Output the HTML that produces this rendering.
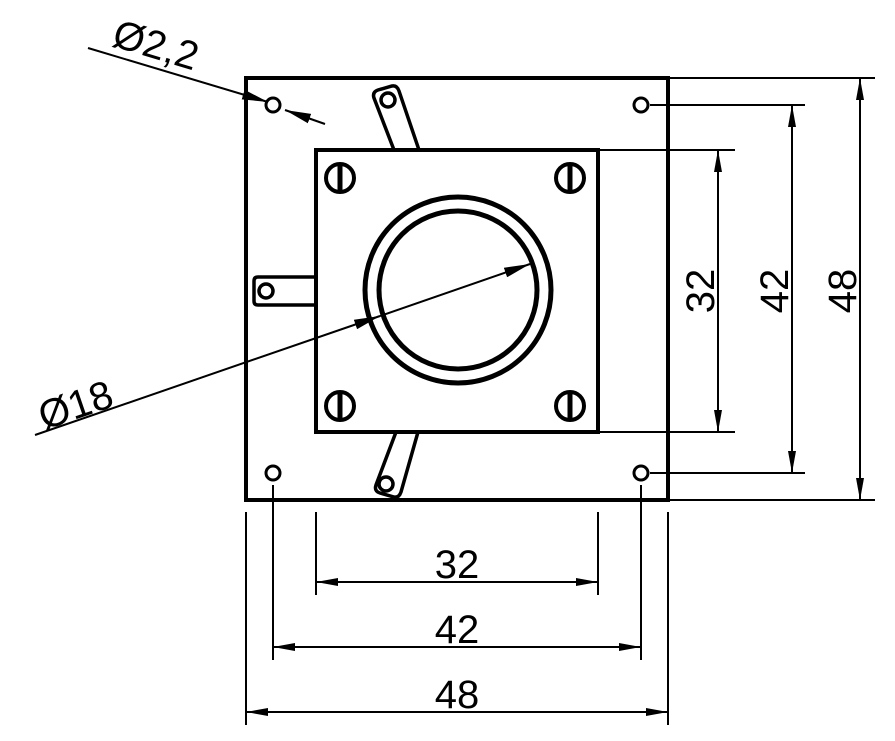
<!DOCTYPE html><html><head><style>body{margin:0;background:#fff}</style></head><body>
<svg width="895" height="736" viewBox="0 0 895 736" xmlns="http://www.w3.org/2000/svg" font-family="Liberation Sans, sans-serif">
<defs><marker id="a" markerWidth="22" markerHeight="8" refX="22" refY="4" orient="auto-start-reverse" markerUnits="userSpaceOnUse"><path d="M0,0L22,4L0,8z" fill="#000"/></marker>
<marker id="b" markerWidth="26" markerHeight="10" refX="26" refY="5" orient="auto" markerUnits="userSpaceOnUse"><path d="M0,0L26,5L0,10z" fill="#000"/></marker></defs>
<g fill="none" stroke="#000">
<rect x="246" y="78" width="422" height="422" stroke-width="4"/>
<rect x="316" y="150" width="282" height="282" stroke-width="4"/>
<g stroke-width="3"><circle cx="273" cy="105" r="7"/><circle cx="641" cy="105" r="7"/><circle cx="273" cy="473" r="7"/><circle cx="641" cy="473" r="7"/></g>
<g stroke-width="4"><circle cx="340" cy="178" r="14"/><circle cx="570" cy="178" r="14"/><circle cx="340" cy="406" r="14"/><circle cx="570" cy="406" r="14"/></g>
<g stroke-width="5"><path d="M340 164V192M570 164V192M340 392V420M570 392V420"/></g>
<circle cx="458" cy="290" r="93" stroke-width="5"/><circle cx="458" cy="290" r="79" stroke-width="5"/>
<g stroke-width="3.5">
<path d="M394 150L374 98Q372 92 378 90L392 86Q397 85 399 91L419 150"/><circle cx="388" cy="100" r="7"/>
<path d="M316 277H258Q254 277 254 281V301Q254 305 258 305H316"/><circle cx="266" cy="291" r="7"/>
<path d="M396 432L376 485Q374 491 380 493L394 497Q399 498 401 492L418 432"/><circle cx="386" cy="484" r="7"/>
</g>
<g stroke-width="2">
<path d="M600 150H735M600 432H735M650 105H805M650 473H805M670 78H875M670 500H875"/>
<path d="M316 512V595M598 512V595M273 485V660M641 485V660M246 512V725M668 512V725"/>
<path d="M718 150V432" marker-start="url(#a)" marker-end="url(#a)"/>
<path d="M792 105V473" marker-start="url(#a)" marker-end="url(#a)"/>
<path d="M860 78V500" marker-start="url(#a)" marker-end="url(#a)"/>
<path d="M316 582H598" marker-start="url(#a)" marker-end="url(#a)"/>
<path d="M273 647H641" marker-start="url(#a)" marker-end="url(#a)"/>
<path d="M246 712H668" marker-start="url(#a)" marker-end="url(#a)"/>
<path d="M88 48L268 102" marker-end="url(#b)"/>
<path d="M325 124L285 110" marker-end="url(#b)"/>
<path d="M35 435L380 316" marker-end="url(#b)"/>
<path d="M380 316L530 264" marker-end="url(#b)"/>
</g></g>
<g font-size="40" fill="#000" text-anchor="middle">
<text x="457" y="578">32</text><text x="457" y="643">42</text><text x="457" y="708">48</text>
<text transform="translate(714 291) rotate(-90)">32</text>
<text transform="translate(788 291) rotate(-90)">42</text>
<text transform="translate(856 291) rotate(-90)">48</text>
<text transform="translate(152 58) rotate(17)">Ø2,2</text>
<text transform="translate(80 418) rotate(-19)">Ø18</text>
</g>
</svg></body></html>
